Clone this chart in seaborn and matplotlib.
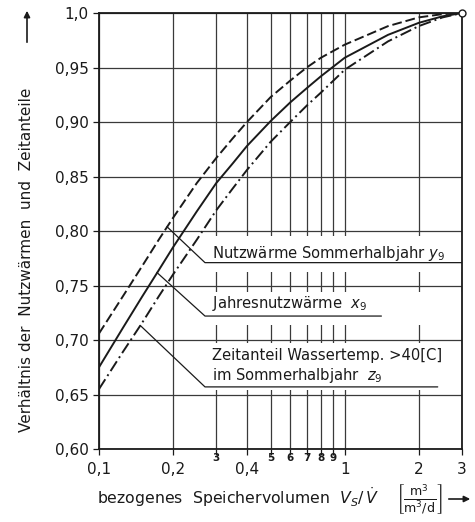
import numpy as np
import pandas as pd
import matplotlib
matplotlib.use("Agg")
import matplotlib.pyplot as plt
import seaborn as sns
from matplotlib.patches import Rectangle

# values
x_vals = [0.1, 0.125, 0.15, 0.175, 0.2, 0.25, 0.3, 0.35, 0.4, 0.5, 0.6, 0.7, 0.8, 1.0, 1.5, 2.0, 2.5, 3.0]
y_sommer = [0.706, 0.740, 0.768, 0.792, 0.812, 0.844, 0.867, 0.885, 0.900, 0.923, 0.938, 0.950, 0.959, 0.971, 0.988, 0.996, 0.999, 1.0]
x_jahr = [0.675, 0.711, 0.740, 0.764, 0.785, 0.818, 0.844, 0.862, 0.878, 0.901, 0.918, 0.931, 0.942, 0.959, 0.980, 0.991, 0.997, 1.0]
z_zeit = [0.655, 0.689, 0.716, 0.740, 0.760, 0.792, 0.819, 0.839, 0.856, 0.882, 0.900, 0.915, 0.927, 0.948, 0.974, 0.988, 0.996, 1.0]

series_names = ["y9", "x9", "z9"]
y_ticks = [0.60, 0.65, 0.70, 0.75, 0.80, 0.85, 0.90, 0.95, 1.0]
y_ticklabels = ["0,60", "0,65", "0,70", "0,75", "0,80", "0,85", "0,90", "0,95", "1,0"]
x_major = [0.1, 0.2, 0.4, 1, 2, 3]
x_major_labels = ["0,1", "0,2", "0,4", "1", "2", "3"]
x_minor = [0.3, 0.5, 0.6, 0.7, 0.8, 0.9]
x_minor_labels = ["3", "5", "6", "7", "8", "9"]

df = pd.DataFrame({
    "x": x_vals * 3,
    "y": y_sommer + x_jahr + z_zeit,
    "Kurve": [n for n in series_names for _ in x_vals],
})

sns.set_style("ticks")
plt.rcParams["font.family"] = ["DejaVu Sans"]
ink = "#1a1a1a"
grid_c = "#3a3a3a"

fig = plt.figure(figsize=(4.75, 5.22), dpi=100)
ax = fig.add_axes([0.2084, 0.1398, 0.7642, 0.8352])

ax.set_xscale("log")
ax.set_xlim(0.1, 3)
ax.set_ylim(0.6, 1.0)

sns.lineplot(data=df, x="x", y="y", style="Kurve", style_order=series_names,
             dashes={"y9": (5, 2), "x9": "", "z9": (6, 2, 1, 2)},
             color=ink, linewidth=1.4, estimator=None, legend=False, ax=ax, zorder=4)

# grid
ax.set_xticks(x_major)
ax.set_xticklabels(x_major_labels)
ax.set_xticks(x_minor, minor=True)
ax.set_xticklabels([""] * len(x_minor), minor=True)
ax.set_yticks(y_ticks)
ax.set_yticklabels(y_ticklabels)
ax.grid(True, which="both", color=grid_c, linewidth=0.9, zorder=0)
ax.set_axisbelow(True)
ax.tick_params(axis="both", which="both", direction="out", length=4, width=0.9,
               color=ink, labelsize=11, labelcolor=ink)
ax.tick_params(axis="x", which="major", pad=5)
ax.set_xlabel("")
ax.set_ylabel("")
for s in ax.spines.values():
    s.set_color(ink)
    s.set_linewidth(1.3)

# small minor labels
for xv, lab in zip(x_minor, x_minor_labels):
    ax.text(xv, 0.6 - 0.004, lab, ha="center", va="top", fontsize=7.5,
            fontweight="bold", color=ink, clip_on=False)

# white label boxes covering the grid
for y0, y1 in [(0.762, 0.795), (0.714, 0.744), (0.654, 0.697)]:
    ax.add_patch(Rectangle((0.26, y0), 3 - 0.26, y1 - y0, facecolor="white",
                           edgecolor="none", zorder=2))

# leader lines and underlines
leaders = [
    ((0.189, 0.804), (0.27, 0.771), 3.0),
    ((0.172, 0.762), (0.27, 0.722), 1.41),
    ((0.147, 0.7135), (0.27, 0.657), 2.39),
]
for (xa, ya), (xb, yb), xend in leaders:
    ax.plot([xa, xb, xend], [ya, yb, yb], color=ink, linewidth=0.9, zorder=3)

lab_fs = 10.6
ax.text(0.288, 0.775, r"Nutzwärme Sommerhalbjahr $y_9$", fontsize=lab_fs, color=ink, zorder=5)
ax.text(0.288, 0.729, r"Jahresnutzwärme  $x_9$", fontsize=lab_fs, color=ink, zorder=5)
ax.text(0.288, 0.682, r"Zeitanteil Wassertemp. >40[C]", fontsize=lab_fs, color=ink, zorder=5)
ax.text(0.288, 0.663, r"im Sommerhalbjahr  $z_9$", fontsize=lab_fs, color=ink, zorder=5)

# end point marker
ax.plot([3], [1.0], marker="o", markersize=5, markerfacecolor="white",
        markeredgecolor=ink, clip_on=False, zorder=6)

# axis titles
fig.text(27 / 475, 1 - 260 / 522, "Verhältnis der  Nutzwärmen  und  Zeitanteile",
         rotation=90, ha="center", va="center", fontsize=11, color=ink)
fig.text(97 / 475, 1 - 497 / 522, r"bezogenes  Speichervolumen  $V_S/\,\dot{V}$",
         ha="left", va="center", fontsize=11.3, color=ink)
fig.text(396 / 475, 1 - 500 / 522, r"$\left[\frac{\mathrm{m}^3}{\mathrm{m}^3/\mathrm{d}}\right]$",
         ha="left", va="center", fontsize=13, color=ink)
ax.annotate("", xy=(473 / 475, 1 - 499 / 522), xytext=(446 / 475, 1 - 499 / 522),
            xycoords="figure fraction", textcoords="figure fraction",
            arrowprops=dict(arrowstyle="-|>", color=ink, lw=1.2, mutation_scale=9))
ax.annotate("", xy=(27 / 475, 1 - 8 / 522), xytext=(27 / 475, 1 - 45 / 522),
            xycoords="figure fraction", textcoords="figure fraction",
            arrowprops=dict(arrowstyle="-|>", color=ink, lw=1.2, mutation_scale=9))

fig.savefig("out.png", dpi=100, facecolor="white")
